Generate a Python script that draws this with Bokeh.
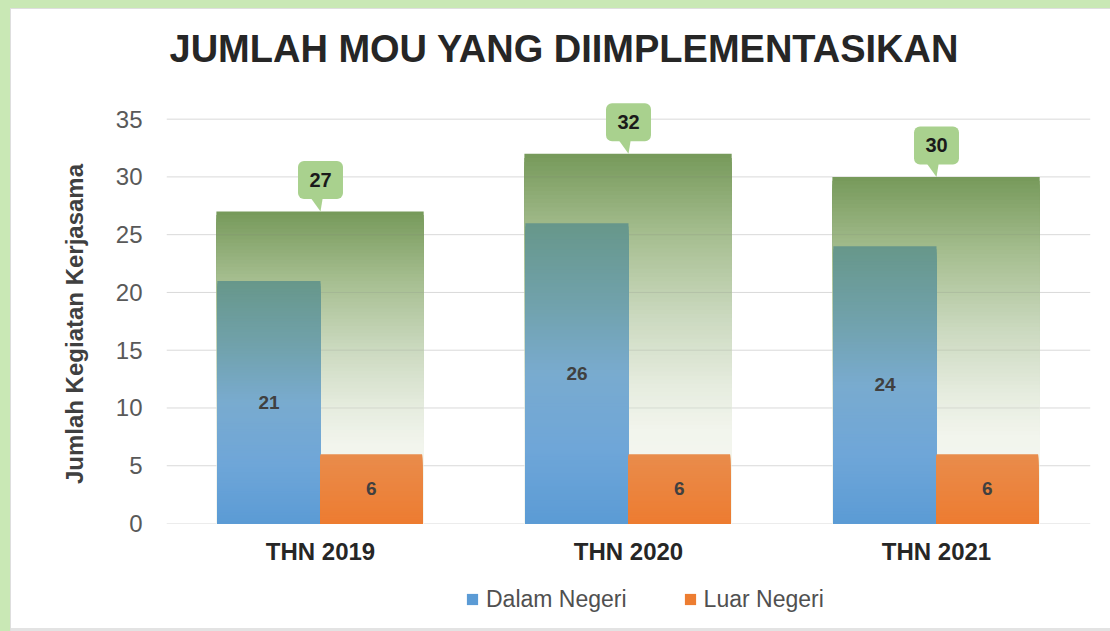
from bokeh.plotting import figure
from bokeh.layouts import column
from bokeh.models import ColumnDataSource, Range1d, FixedTicker, Legend, LegendItem
from bokeh.embed import file_html
from bokeh.resources import INLINE
from bokeh.core.properties import value

# ---------------- data ----------------
categories = ["THN 2019", "THN 2020", "THN 2021"]
dalam_negeri = [21, 26, 24]
luar_negeri = [6, 6, 6]
total = [27, 32, 30]
y_ticks = [0, 5, 10, 15, 20, 25, 30, 35]
series_names = ["Dalam Negeri", "Luar Negeri"]
series_colors = ["#5b9bd5", "#ed7d31"]
title_text = "JUMLAH MOU YANG DIIMPLEMENTASIKAN"
y_label = "Jumlah Kegiatan Kerjasama"

FONT = "Liberation Sans"
N = 90  # gradient slices per bar

GREEN_STOPS = [(0.0, "#f5f7f1"), (0.25, "#f2f5ed"), (0.37, "#e6ecdf"),
               (0.56, "#cbd9bf"), (0.78, "#a6be90"), (1.0, "#76995a")]
BLUE_STOPS = [(0.0, "#5b9bd5"), (0.25, "#6fa6d8"), (0.5, "#79abcf"),
              (0.72, "#71a2ad"), (1.0, "#67978a")]
ORANGE_STOPS = [(0.0, "#ed7c31"), (1.0, "#e98c4c")]


def hex2rgb(h):
    h = h.lstrip("#")
    return tuple(int(h[i:i + 2], 16) for i in (0, 2, 4))


def interp(stops, f):
    for (p0, c0), (p1, c1) in zip(stops[:-1], stops[1:]):
        if p0 <= f <= p1:
            t = (f - p0) / (p1 - p0) if p1 > p0 else 0
            a, b = hex2rgb(c0), hex2rgb(c1)
            r = [round(a[j] + (b[j] - a[j]) * t) for j in range(3)]
            return "#%02x%02x%02x" % tuple(r)
    return stops[-1][1]


def gradient_source(values, lo, hi, stops):
    d = dict(left=[], right=[], top=[], bottom=[], color=[])
    for i, v in enumerate(values):
        for k in range(N, 0, -1):  # tallest first so shorter slices cover
            d["left"].append(i + lo)
            d["right"].append(i + hi)
            d["bottom"].append(0)
            d["top"].append(v * k / N)
            d["color"].append(interp(stops, (k - 0.5) / N))
    return ColumnDataSource(d)


p = figure(frame_width=924, frame_height=439,
           min_border_left=166, min_border_right=20,
           min_border_top=84, min_border_bottom=60,
           x_range=Range1d(-0.5, 2.5), y_range=Range1d(0, 38),
           output_backend="svg", toolbar_location=None)
p.outline_line_color = None
p.xgrid.visible = False
p.ygrid.visible = False
p.background_fill_color = "white"
p.border_fill_alpha = 0

# title
p.title.text = title_text
p.title.align = "left"
p.title.offset = 3
p.title.standoff = 29
p.title.text_font = FONT
p.title.text_font_style = "bold"
p.title.text_font_size = "38px"
p.title.text_color = "#262626"

# axes
p.yaxis.ticker = FixedTicker(ticks=y_ticks)
p.xaxis.ticker = FixedTicker(ticks=list(range(len(categories))))
p.xaxis.major_label_overrides = {i: c for i, c in enumerate(categories)}
for ax in (p.xaxis, p.yaxis):
    ax.axis_line_color = None
    ax.major_tick_line_color = None
    ax.minor_tick_line_color = None
    ax.major_tick_out = 0
    ax.major_tick_in = 0
    ax.major_label_text_font = FONT
    ax.major_label_text_font_size = "24px"
p.yaxis.major_label_text_color = "#595959"
p.yaxis.major_label_standoff = 24
p.yaxis.axis_label = y_label + "\u00a0" * 6
p.yaxis.axis_label_text_font = FONT
p.yaxis.axis_label_text_font_style = "bold"
p.yaxis.axis_label_text_font_size = "24px"
p.yaxis.axis_label_text_color = "#404040"
p.yaxis.axis_label_standoff = 25
p.xaxis.major_label_text_color = "#262626"
p.xaxis.major_label_text_font_style = "bold"
p.xaxis.major_label_standoff = 14

# gridlines
p.segment(x0=-0.5, x1=2.5, y0=y_ticks, y1=y_ticks, line_color="#d9d9d9", line_width=1)

# total (green) bars
g_src = gradient_source(total, -0.338, 0.335, GREEN_STOPS)
p.quad(left="left", right="right", top="top", bottom="bottom", source=g_src,
       fill_color="color", line_color=None)

# faint gridlines visible through the green bar
gx0, gx1, gy = [], [], []
for i, v in enumerate(total):
    for t in y_ticks:
        if 0 < t < v:
            gx0.append(i - 0.338)
            gx1.append(i + 0.335)
            gy.append(t)
p.segment(x0=gx0, x1=gx1, y0=gy, y1=gy, line_color="#7f7f7f", line_alpha=0.18, line_width=1)

# Dalam Negeri / Luar Negeri
b_src = gradient_source(dalam_negeri, -0.335, 0.0, BLUE_STOPS)
p.quad(left="left", right="right", top="top", bottom="bottom", source=b_src,
       fill_color="color", line_color=None)
o_src = gradient_source(luar_negeri, 0.0, 0.33, ORANGE_STOPS)
p.quad(left="left", right="right", top="top", bottom="bottom", source=o_src,
       fill_color="color", line_color=None)

# value labels
xs = list(range(len(categories)))
p.text(x=[x - 0.167 for x in xs], y=[v / 2 for v in dalam_negeri],
       text=[str(v) for v in dalam_negeri], text_font=value(FONT),
       text_font_style="bold", text_font_size="19px", text_color="#404040",
       text_align="center", text_baseline="middle")
p.text(x=[x + 0.165 for x in xs], y=[v / 2 for v in luar_negeri],
       text=[str(v) for v in luar_negeri], text_font=value(FONT),
       text_font_style="bold", text_font_size="19px", text_color="#404040",
       text_align="center", text_baseline="middle")

# callouts for totals
p.patches(xs=[[x - 0.035, x + 0.008, x] for x in xs],
          ys=[[v + 1.3, v + 1.3, v] for v in total],
          fill_color="#a9d18e", line_color=None)
p.quad(left=[x - 0.073 for x in xs], right=[x + 0.073 for x in xs],
       bottom=[v + 1.08 for v in total], top=[v + 4.37 for v in total],
       fill_color="#a9d18e", line_color=None, border_radius=6)
p.text(x=xs, y=[v + 2.75 for v in total], text=[str(v) for v in total],
       text_font=value(FONT), text_font_style="bold", text_font_size="20px",
       text_color="#1a1a1a", text_align="center", text_baseline="middle")

# ---------------- legend strip ----------------
lg = figure(width=1110, height=48, x_range=Range1d(0, 1), y_range=Range1d(0, 1),
            min_border=0, min_border_left=0, min_border_right=0,
            min_border_top=0, min_border_bottom=0,
            output_backend="svg", toolbar_location=None)
lg.axis.visible = False
lg.grid.visible = False
lg.outline_line_color = None
lg.background_fill_alpha = 0
lg.border_fill_alpha = 0
items = []
for name, col in zip(series_names, series_colors):
    r = lg.scatter(x=[-5], y=[-5], marker="square", size=11,
                   fill_color=col, line_color=None)
    items.append(LegendItem(label=name, renderers=[r]))
legend = Legend(items=items, orientation="horizontal", location=(292, 18),
                glyph_width=28, glyph_height=28, label_standoff=0, spacing=49,
                padding=0, margin=0, border_line_color=None, background_fill_alpha=0,
                label_text_font=FONT, label_text_font_size="23px",
                label_text_color="#505050")
lg.add_layout(legend)

layout = column(p, lg, spacing=0)
layout.styles = {"box-shadow": ("inset 10px 8px 0 0 #c9e8b5, inset 11px 9px 0 0 #dedede, "
                                "inset 0 -3px 0 0 #e3e3e3"),
                 "background-color": "white"}

open("out.html", "w").write(file_html(layout, INLINE))
